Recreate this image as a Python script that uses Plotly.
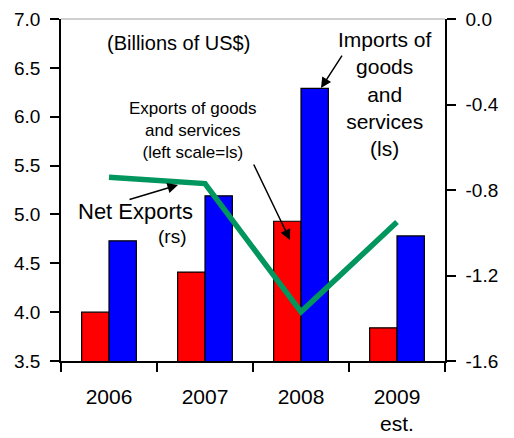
import plotly.graph_objects as go

years = ["2006", "2007", "2008", "2009<br>est."]
exports = [4.00, 4.41, 4.93, 3.84]
imports = [4.73, 5.19, 6.29, 4.78]
net_exports = [-0.74, -0.77, -1.37, -0.95]

left_ticks = [3.5, 4.0, 4.5, 5.0, 5.5, 6.0, 6.5, 7.0]
left_labels = ["3.5", "4.0", "4.5", "5.0", "5.5", "6.0", "6.5", "7.0"]
right_ticks = [0.0, -0.4, -0.8, -1.2, -1.6]
right_labels = ["0.0", "-0.4", "-0.8", "-1.2", "-1.6"]

FONT = "Liberation Sans"

fig = go.Figure()
fig.add_trace(go.Bar(x=years, y=exports, name="Exports", marker=dict(color="#FF0000", line=dict(color="black", width=1.2))))
fig.add_trace(go.Bar(x=years, y=imports, name="Imports", marker=dict(color="#0000FF", line=dict(color="black", width=1.2))))
fig.add_trace(go.Scatter(x=years, y=net_exports, yaxis="y2", mode="lines", name="Net Exports",
                         line=dict(color="#00965E", width=5.5)))

fig.update_layout(
    width=514, height=438,
    margin=dict(l=53, r=77, t=11, b=85),
    paper_bgcolor="white", plot_bgcolor="white",
    showlegend=False,
    barmode="group", bargap=0.43, bargroupgap=0,
    font=dict(family=FONT, color="black"),
    xaxis=dict(type="category", range=[-0.5, 3.5], showline=True, linecolor="black", linewidth=1.5,
               ticks="outside", tickson="boundaries", ticklen=9, tickwidth=1.5, tickcolor="black",
               tickfont=dict(size=21, family=FONT), showgrid=False, zeroline=False,
               automargin=False, ticklabelstandoff=16, ticklabeloverflow="allow"),
    yaxis=dict(range=[3.5, 7.0], tickvals=left_ticks, ticktext=left_labels, showline=True,
               linecolor="black", linewidth=1.5, ticks="outside", ticklen=9, tickwidth=1.5,
               tickcolor="black", tickfont=dict(size=19, family=FONT), showgrid=False, zeroline=False,
               automargin=False, ticklabelstandoff=6, ticklabeloverflow="allow"),
    yaxis2=dict(range=[-1.6, 0.0], overlaying="y", side="right", tickvals=right_ticks, ticktext=right_labels,
                showline=True, linecolor="black", linewidth=1.5, ticks="outside", ticklen=9, tickwidth=1.5,
                tickcolor="black", tickfont=dict(size=19, family=FONT), showgrid=False, zeroline=False,
                automargin=False, ticklabelstandoff=6, ticklabeloverflow="allow"),
)

fig.add_shape(type="line", xref="paper", yref="paper", x0=0, x1=1, y0=1, y1=1,
              line=dict(color="#BFBFBF", width=1.5))

txt = dict(showarrow=False, xref="paper", yref="paper", xanchor="center", yanchor="middle")
fig.add_annotation(text="(Billions of US$)", x=0.307, y=0.93, font=dict(size=20, family=FONT), **txt)
fig.add_annotation(text="Exports of goods<br>and services<br>(left scale=ls)", x=0.344, y=0.675,
                   font=dict(size=17, family=FONT), **txt)
fig.add_annotation(text="Imports of<br>goods<br>and<br>services<br>(ls)", x=0.844, y=0.782,
                   font=dict(size=21, family=FONT), **txt)
fig.add_annotation(text="Net Exports", x=0.195, y=0.436, font=dict(size=22, family=FONT), **txt)
fig.add_annotation(text="(rs)", x=0.289, y=0.365, font=dict(size=19, family=FONT), **txt)

arr = dict(showarrow=True, xref="paper", yref="paper", text="", arrowhead=2, arrowsize=1.4,
           arrowwidth=1.5, arrowcolor="black", axref="pixel", ayref="pixel")
fig.add_annotation(x=0.3047, y=0.5146, ax=-50, ay=15, **arr)
fig.add_annotation(x=0.5964, y=0.3538, ax=-37, ay=-77, **arr)
fig.add_annotation(x=0.677, y=0.798, ax=22, ay=-34, **arr)

fig.write_html("out.html")
